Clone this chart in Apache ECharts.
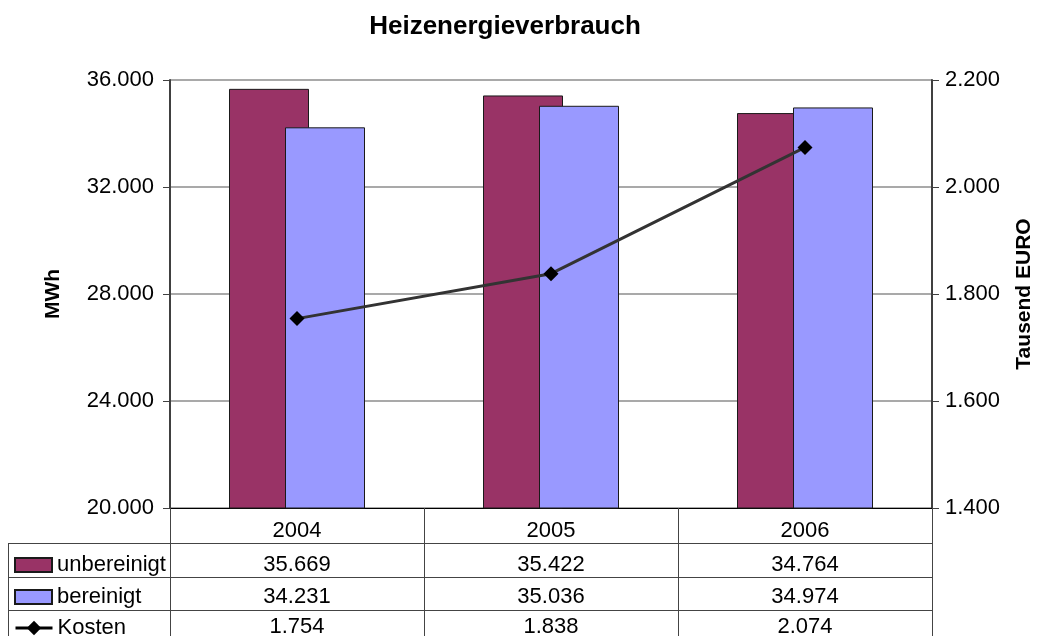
<!DOCTYPE html>
<html>
<head>
<meta charset="utf-8">
<script src="https://cdn.jsdelivr.net/npm/echarts@6/dist/echarts.min.js"></script>
<style>html,body{margin:0;padding:0;background:#fff}#c{width:1040px;height:636px}</style>
</head>
<body>
<div id="c"></div>
<script>
var titleText = 'Heizenergieverbrauch';
var years = ['2004', '2005', '2006'];
var unbereinigt = [35669, 35422, 34764];
var bereinigt = [34231, 35036, 34974];
var kosten = [1754, 1838, 2074];
var seriesNames = ['unbereinigt', 'bereinigt', 'Kosten'];
var leftAxisName = 'MWh';
var rightAxisName = 'Tausend EURO';

function de(v) { return String(v).replace(/\B(?=(\d{3})+(?!\d))/g, '.'); }

var FONT = 'Liberation Sans, Arial, sans-serif';
var LBL = 22;
var tableLine = '#444';

function tableAxis(vals, offset, margin) {
  return {
    type: 'category', data: vals.map(de), position: 'bottom', offset: offset,
    axisLine: { show: true, lineStyle: { color: tableLine, width: 1 } },
    axisTick: { show: false }, splitLine: { show: false },
    axisLabel: { margin: margin, color: '#000', fontSize: LBL, fontFamily: FONT, interval: 0 }
  };
}

function legendFor(name, top, icon, h) {
  var l = {
    orient: 'vertical', left: 14, top: top, padding: 0,
    itemWidth: 37, itemHeight: h, itemGap: 6,
    data: [name],
    textStyle: { fontFamily: FONT, fontSize: LBL, color: '#000' }
  };
  if (icon) l.icon = icon;
  else { l.lineStyle = { width: 3, color: '#000' }; }
  return l;
}

var chart = echarts.init(document.getElementById('c'), null, { renderer: 'canvas' });
var option = {
  animation: false,
  backgroundColor: '#fff',
  title: {
    text: titleText, left: 500, top: 9, textAlign: 'center',
    textStyle: { fontFamily: FONT, fontSize: 26, fontWeight: 'bold', color: '#000' }
  },
  grid: { left: 170, right: 108, top: 80, bottom: 128, containLabel: false, outerBoundsMode: 'none' },
  legend: [
    legendFor(seriesNames[0], 554, 'rect', 14),
    legendFor(seriesNames[1], 586, 'rect', 14),
    legendFor(seriesNames[2], 617, null, 18)
  ],
  xAxis: [
    {
      type: 'category', data: years, position: 'bottom',
      axisLine: { show: true, lineStyle: { color: '#000', width: 1 } },
      axisTick: { show: true, interval: 0, length: 140, alignWithLabel: false, lineStyle: { color: tableLine, width: 1 } },
      axisLabel: { margin: 12, color: '#000', fontSize: LBL, fontFamily: FONT, interval: 0 },
      splitLine: { show: false }
    },
    tableAxis(unbereinigt, 35, 11),
    tableAxis(bereinigt, 69, 9),
    tableAxis(kosten, 102, 6)
  ],
  yAxis: [
    {
      type: 'value', min: 20000, max: 36000, interval: 4000, position: 'left',
      name: leftAxisName, nameLocation: 'middle', nameGap: 106, nameRotate: 90,
      nameTextStyle: { fontFamily: FONT, fontSize: 21, fontWeight: 'bold', color: '#000' },
      axisLine: { show: true, lineStyle: { color: '#404040', width: 2 } },
      axisTick: { show: true, length: 7, lineStyle: { color: '#404040' } },
      axisLabel: { margin: 16, color: '#000', fontSize: LBL, fontFamily: FONT, formatter: de },
      splitLine: { show: true, lineStyle: { color: '#8c8c8c', width: 1.5 } }
    },
    {
      type: 'value', min: 1400, max: 2200, interval: 200, position: 'right',
      name: rightAxisName, nameLocation: 'middle', nameGap: 82, nameRotate: 90,
      nameTextStyle: { fontFamily: FONT, fontSize: 21, fontWeight: 'bold', color: '#000' },
      axisLine: { show: true, lineStyle: { color: '#404040', width: 2 } },
      axisTick: { show: true, length: 7, lineStyle: { color: '#404040' } },
      axisLabel: { margin: 13, color: '#000', fontSize: LBL, fontFamily: FONT, formatter: de },
      splitLine: { show: false }
    }
  ],
  series: [
    {
      name: seriesNames[0], type: 'bar', xAxisIndex: 0, yAxisIndex: 0,
      data: unbereinigt, barWidth: 80, barGap: '-30%',
      itemStyle: { color: '#993366', borderColor: '#1a1a1a', borderWidth: 1 }
    },
    {
      name: seriesNames[1], type: 'bar', xAxisIndex: 0, yAxisIndex: 0,
      data: bereinigt, barWidth: 80, barGap: '-30%',
      itemStyle: { color: '#9999ff', borderColor: '#1a1a1a', borderWidth: 1 }
    },
    {
      name: seriesNames[2], type: 'line', xAxisIndex: 0, yAxisIndex: 1,
      data: kosten, symbol: 'diamond', symbolSize: 15,
      lineStyle: { color: '#333333', width: 3 },
      itemStyle: { color: '#000' }, z: 5
    }
  ],
  graphic: [
    { type: 'line', shape: { x1: 8.5, y1: 543, x2: 8.5, y2: 640 }, style: { stroke: tableLine, lineWidth: 1 }, silent: true },
    { type: 'line', shape: { x1: 8, y1: 543.5, x2: 170, y2: 543.5 }, style: { stroke: tableLine, lineWidth: 1 }, silent: true },
    { type: 'line', shape: { x1: 8, y1: 577.5, x2: 170, y2: 577.5 }, style: { stroke: tableLine, lineWidth: 1 }, silent: true },
    { type: 'line', shape: { x1: 8, y1: 610.5, x2: 170, y2: 610.5 }, style: { stroke: tableLine, lineWidth: 1 }, silent: true }
  ]
};
chart.setOption(option);
</script>
</body>
</html>
